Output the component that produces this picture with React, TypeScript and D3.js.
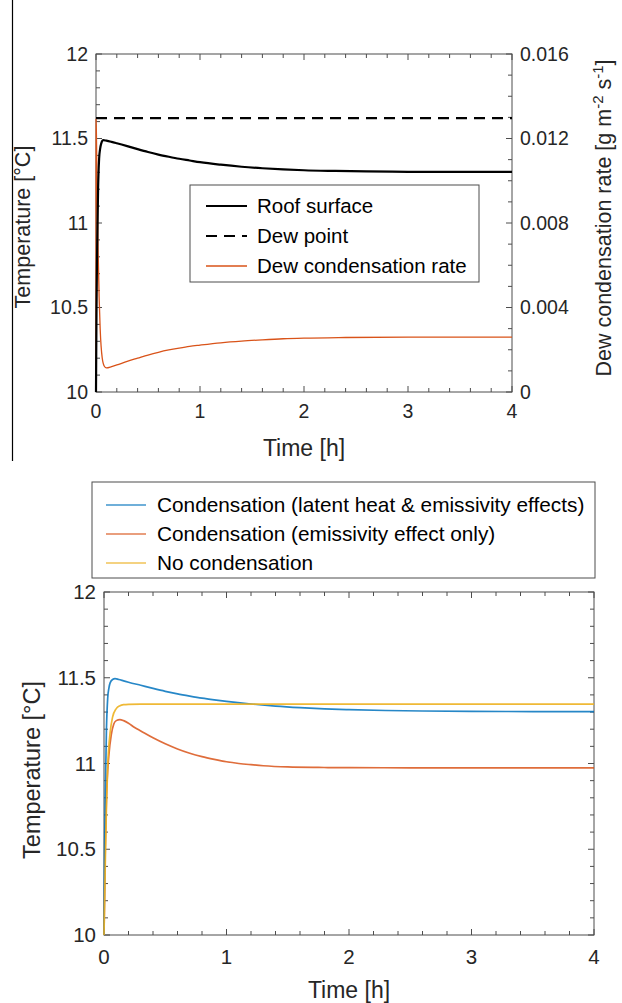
import React from "react";
import * as d3 from "d3";

// ---------- Data ----------
const roofTime = [0, 0.005, 0.01, 0.02, 0.03, 0.04, 0.05, 0.07, 0.1, 0.15, 0.2, 0.3, 0.4, 0.5, 0.6, 0.7, 0.8, 0.9, 1.0, 1.2, 1.4, 1.6, 1.8, 2.0, 2.3, 2.6, 3, 3.5, 4];
const roofTemp = [10, 10.5, 10.8, 11.2, 11.38, 11.44, 11.47, 11.49, 11.487, 11.48, 11.472, 11.455, 11.437, 11.42, 11.405, 11.392, 11.38, 11.37, 11.36, 11.345, 11.333, 11.324, 11.317, 11.312, 11.308, 11.305, 11.303, 11.302, 11.302];
const dewPointTemp = 11.62;
const rateTime = [0, 0.001, 0.004, 0.01, 0.02, 0.03, 0.04, 0.06, 0.08, 0.1, 0.15, 0.2, 0.3, 0.4, 0.5, 0.6, 0.7, 0.8, 0.9, 1.0, 1.2, 1.4, 1.6, 1.8, 2.0, 2.4, 3, 4];
const rateValue = [0, 0.0129, 0.0122, 0.0098, 0.0068, 0.0045, 0.003, 0.0016, 0.00122, 0.00114, 0.0012, 0.00128, 0.00145, 0.0016, 0.00175, 0.00188, 0.00199, 0.00208, 0.00216, 0.00222, 0.00233, 0.00241, 0.00247, 0.00252, 0.00255, 0.00258, 0.0026, 0.0026];

const blueTime = [0, 0.005, 0.01, 0.02, 0.03, 0.04, 0.05, 0.07, 0.09, 0.12, 0.16, 0.2, 0.3, 0.4, 0.5, 0.6, 0.7, 0.8, 0.9, 1.0, 1.2, 1.4, 1.6, 1.8, 2.0, 2.3, 2.6, 3, 3.5, 4];
const blueTemp = [10, 10.5, 10.8, 11.2, 11.38, 11.44, 11.47, 11.49, 11.495, 11.49, 11.482, 11.474, 11.456, 11.438, 11.421, 11.406, 11.393, 11.381, 11.371, 11.362, 11.347, 11.335, 11.326, 11.319, 11.314, 11.309, 11.306, 11.304, 11.303, 11.303];
const orangeTime = [0, 0.01, 0.02, 0.04, 0.06, 0.08, 0.1, 0.13, 0.16, 0.2, 0.25, 0.3, 0.4, 0.5, 0.6, 0.7, 0.8, 0.9, 1.0, 1.1, 1.2, 1.3, 1.5, 1.75, 2, 2.5, 3, 4];
const orangeTemp = [10, 10.5, 10.8, 11.05, 11.17, 11.23, 11.25, 11.256, 11.25, 11.235, 11.21, 11.19, 11.15, 11.115, 11.085, 11.06, 11.04, 11.024, 11.01, 11.0, 10.993, 10.987, 10.98, 10.977, 10.976, 10.975, 10.975, 10.975];
const yellowTime = [0, 0.01, 0.02, 0.03, 0.05, 0.07, 0.1, 0.13, 0.16, 0.2, 0.3, 0.5, 1, 2, 3, 4];
const yellowTemp = [10, 10.4, 10.75, 10.98, 11.18, 11.27, 11.32, 11.337, 11.343, 11.345, 11.346, 11.346, 11.346, 11.346, 11.346, 11.346];

const xTicks = [0, 1, 2, 3, 4];
const tempTicks = [10, 10.5, 11, 11.5, 12];
const rateTicks = [0, 0.004, 0.008, 0.012, 0.016];
const rateTickLabels = ["0", "0.004", "0.008", "0.012", "0.016"];

const topLegend = ["Roof surface", "Dew point", "Dew condensation rate"];
const bottomLegend = [
  "Condensation (latent heat & emissivity effects)",
  "Condensation (emissivity effect only)",
  "No condensation",
];

const BLUE = "#0072BD";
const ORANGE = "#D95319";
const YELLOW = "#EDB120";
const AXIS = "#4d4d4d";
const TEXT = "#262626";
const FONT = "'Liberation Sans', Arial, Helvetica, sans-serif";

function range(a: number, b: number, step: number) {
  const out: number[] = [];
  for (let v = a; v <= b + step * 1e-6; v += step) out.push(+v.toFixed(6));
  return out;
}

function Axes({ x, y, yRight, left, right, top, bottom, yMinorStep, yRightMinorStep }: any) {
  const els: any[] = [];
  const xMinor = range(0, 4, 0.2);
  xMinor.forEach((t, i) => {
    const major = Math.abs(t - Math.round(t)) < 1e-6;
    const len = major ? 6 : 4;
    const px = x(t);
    els.push(<line key={"xb" + i} x1={px} x2={px} y1={bottom} y2={bottom - len} stroke={AXIS} strokeWidth={1} />);
    els.push(<line key={"xt" + i} x1={px} x2={px} y1={top} y2={top + len} stroke={AXIS} strokeWidth={1} />);
  });
  const yMinor = range(10, 12, yMinorStep);
  yMinor.forEach((t, i) => {
    const major = Math.abs(t * 2 - Math.round(t * 2)) < 1e-6;
    const len = major ? 6 : 4;
    const py = y(t);
    els.push(<line key={"yl" + i} x1={left} x2={left + len} y1={py} y2={py} stroke={AXIS} strokeWidth={1} />);
    if (!yRight) els.push(<line key={"yr" + i} x1={right} x2={right - len} y1={py} y2={py} stroke={AXIS} strokeWidth={1} />);
  });
  if (yRight) {
    range(0, 0.016, yRightMinorStep).forEach((t, i) => {
      const major = Math.abs(t / 0.004 - Math.round(t / 0.004)) < 1e-6;
      const len = major ? 6 : 4;
      const py = yRight(t);
      els.push(<line key={"yrr" + i} x1={right} x2={right - len} y1={py} y2={py} stroke={AXIS} strokeWidth={1} />);
    });
  }
  return <g>{els}</g>;
}

export default function App() {
  // ----- top chart -----
  const t = { left: 96, right: 512, top: 54, bottom: 392 };
  const x1 = d3.scaleLinear().domain([0, 4]).range([t.left, t.right]);
  const y1 = d3.scaleLinear().domain([10, 12]).range([t.bottom, t.top]);
  const yr = d3.scaleLinear().domain([0, 0.016]).range([t.bottom, t.top]);
  const lineT = d3.line<number>().x((_, i) => x1(roofTime[i])).y((d) => y1(d)).curve(d3.curveMonotoneX);
  const lineR = d3.line<number>().x((_, i) => x1(rateTime[i])).y((d) => yr(d)).curve(d3.curveMonotoneX);

  // ----- bottom chart -----
  const b = { left: 104, right: 594, top: 592, bottom: 935 };
  const x2 = d3.scaleLinear().domain([0, 4]).range([b.left, b.right]);
  const y2 = d3.scaleLinear().domain([10, 12]).range([b.bottom, b.top]);
  const mk = (times: number[]) =>
    d3.line<number>().x((_, i) => x2(times[i])).y((d) => y2(d)).curve(d3.curveMonotoneX);

  const topLegendColors = ["#000", "#000", ORANGE];
  const topLegendDash = [undefined, "11,7", undefined];
  const topLegendWidth = [2.2, 2.2, 1.3];
  const bottomLegendColors = [BLUE, ORANGE, YELLOW];

  const tickFsTop = 19.5;
  const tickFsBot = 20.5;

  return (
    <svg width={622} height={1003} style={{ position: "absolute", left: 0, top: 0, background: "#fff" }} fontFamily={FONT}>
      <rect x={0} y={0} width={622} height={1003} fill="#fff" />
      {/* left border artifact */}
      <line x1={12.5} x2={12.5} y1={0} y2={461} stroke="#000" strokeWidth={1.2} />

      {/* ===== TOP CHART ===== */}
      <rect x={t.left} y={t.top} width={t.right - t.left} height={t.bottom - t.top} fill="#fff" stroke={AXIS} strokeWidth={1} />
      <Axes x={x1} y={y1} yRight={yr} left={t.left} right={t.right} top={t.top} bottom={t.bottom} yMinorStep={0.1} yRightMinorStep={0.001} />
      <line x1={x1(0)} x2={x1(4)} y1={y1(dewPointTemp)} y2={y1(dewPointTemp)} stroke="#000" strokeWidth={2.2} strokeDasharray="11,7" />
      <path d={lineR(rateValue) || ""} fill="none" stroke={ORANGE} strokeWidth={1.3} />
      <path d={lineT(roofTemp) || ""} fill="none" stroke="#000" strokeWidth={2.2} />

      {tempTicks.map((v) => (
        <text key={"tl" + v} x={t.left - 8} y={y1(v)} dy="0.35em" textAnchor="end" fontSize={tickFsTop} fill={TEXT}>
          {v}
        </text>
      ))}
      {rateTicks.map((v, i) => (
        <text key={"tr" + v} x={t.right + 8} y={yr(v)} dy="0.35em" textAnchor="start" fontSize={tickFsTop} fill={TEXT}>
          {rateTickLabels[i]}
        </text>
      ))}
      {xTicks.map((v) => (
        <text key={"tx" + v} x={x1(v)} y={418} textAnchor="middle" fontSize={tickFsTop} fill={TEXT}>
          {v}
        </text>
      ))}
      <text x={(t.left + t.right) / 2} y={456} textAnchor="middle" fontSize={23} fill={TEXT}>
        Time [h]
      </text>
      <text transform={`translate(30,227) rotate(-90)`} textAnchor="middle" fontSize={21.5} fill={TEXT}>
        Temperature [°C]
      </text>
      <text transform={`translate(611,218) rotate(-90)`} textAnchor="middle" fontSize={21.5} fill={TEXT}>
        Dew condensation rate [g m
        <tspan dy={-8} fontSize={15}>-2</tspan>
        <tspan dy={8}> s</tspan>
        <tspan dy={-8} fontSize={15}>-1</tspan>
        <tspan dy={8}>]</tspan>
      </text>

      {/* top legend */}
      <rect x={190} y={185} width={289} height={97} fill="#fff" stroke={AXIS} strokeWidth={1} />
      {topLegend.map((name, i) => {
        const cy = 206 + i * 30;
        return (
          <g key={name}>
            <line x1={206} x2={247} y1={cy} y2={cy} stroke={topLegendColors[i]} strokeWidth={topLegendWidth[i]} strokeDasharray={topLegendDash[i]} />
            <text x={257} y={cy} dy="0.35em" fontSize={20.5} fill="#000">
              {name}
            </text>
          </g>
        );
      })}

      {/* ===== BOTTOM CHART ===== */}
      <rect x={92} y={482} width={503} height={96} fill="#fff" stroke={AXIS} strokeWidth={1} />
      {bottomLegend.map((name, i) => {
        const cy = 505 + i * 29;
        return (
          <g key={name}>
            <line x1={106} x2={146} y1={cy} y2={cy} stroke={bottomLegendColors[i]} strokeWidth={1.3} opacity={0.75} />
            <text x={157} y={cy} dy="0.35em" fontSize={20.8} fill="#000">
              {name}
            </text>
          </g>
        );
      })}

      <rect x={b.left} y={b.top} width={b.right - b.left} height={b.bottom - b.top} fill="#fff" stroke={AXIS} strokeWidth={1} />
      <Axes x={x2} y={y2} left={b.left} right={b.right} top={b.top} bottom={b.bottom} yMinorStep={0.1} />
      <path d={mk(orangeTime)(orangeTemp) || ""} fill="none" stroke={ORANGE} strokeWidth={1.7} opacity={0.85} />
      <path d={mk(blueTime)(blueTemp) || ""} fill="none" stroke={BLUE} strokeWidth={1.7} opacity={0.85} />
      <path d={mk(yellowTime)(yellowTemp) || ""} fill="none" stroke={YELLOW} strokeWidth={1.7} opacity={0.9} />

      {tempTicks.map((v) => (
        <text key={"bl" + v} x={b.left - 8} y={y2(v)} dy="0.35em" textAnchor="end" fontSize={tickFsBot} fill={TEXT}>
          {v}
        </text>
      ))}
      {xTicks.map((v) => (
        <text key={"bx" + v} x={x2(v)} y={964} textAnchor="middle" fontSize={tickFsBot} fill={TEXT}>
          {v}
        </text>
      ))}
      <text x={(b.left + b.right) / 2} y={998} textAnchor="middle" fontSize={23} fill={TEXT}>
        Time [h]
      </text>
      <text transform={`translate(40,770) rotate(-90)`} textAnchor="middle" fontSize={23.5} fill={TEXT}>
        Temperature [°C]
      </text>
    </svg>
  );
}
